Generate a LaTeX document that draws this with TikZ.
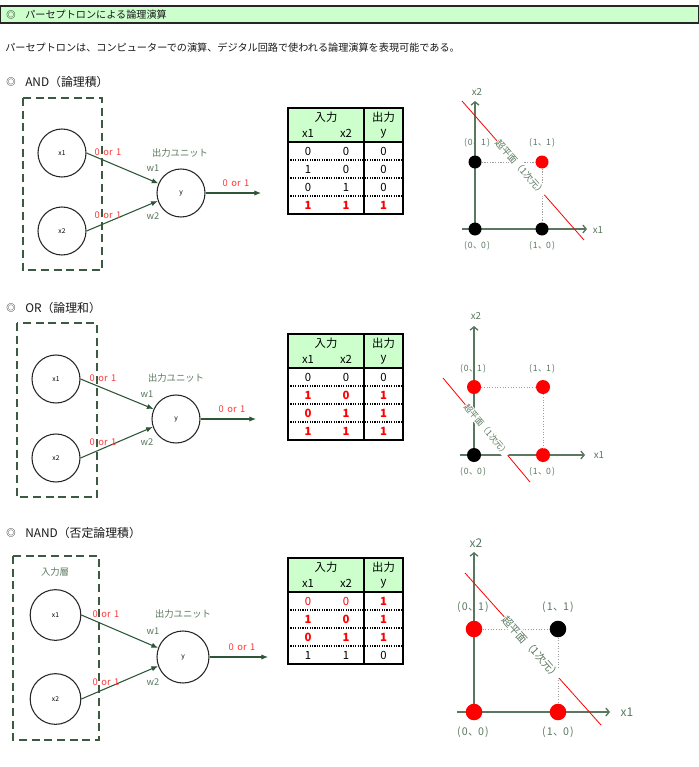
\documentclass[tikz,border=0pt]{standalone}
\usepackage{fontspec}
\setmainfont{Noto Sans CJK JP}
\usetikzlibrary{arrows.meta}
\definecolor{hdrgreen}{HTML}{CCFFCC}
\definecolor{boxgreen}{RGB}{60,90,66}
\definecolor{wiregreen}{RGB}{45,85,55}
\definecolor{lblgreen}{RGB}{90,120,95}
\definecolor{axisgreen}{RGB}{90,120,95}
\definecolor{lred}{RGB}{255,55,55}
\newcommand\Rb[1]{\textcolor{red}{\bfseries #1}}
\newcommand\Rn[1]{\textcolor{red}{#1}}
\newcommand\cpair[2]{(\kern0.8pt#1\kern0.3pt、\kern-0.5pt#2\kern0.8pt)}
\newcommand\zeroone{0\hspace{2.6pt}or\hspace{2.6pt}1}
\tikzset{
  txt/.style={inner sep=0pt, anchor=west, text=black!90, font=\fontsize{7.6pt}{9pt}\selectfont},
  sechead/.style={inner sep=0pt, anchor=west, text=black!90, font=\fontsize{8.9pt}{10pt}\selectfont},
  symb/.style={inner sep=0pt, text=black, font=\fontsize{7pt}{7pt}\selectfont},
  dashbox/.style={draw=boxgreen, line width=1pt, dash pattern=on 6pt off 3.5pt},
  neuron/.style={circle, draw=black!85, line width=0.8pt, minimum size=#1, inner sep=0pt, font=\fontsize{5pt}{6pt}\selectfont},
  wire/.style={draw=wiregreen, line width=0.8pt, -{Latex[length=5pt,width=4pt]}},
  vallbl/.style={inner sep=0pt, text=lred, font=\fontsize{7pt}{8pt}\selectfont},
  unitlbl/.style={inner sep=0pt, text=lblgreen, font=\fontsize{7pt}{8pt}\selectfont},
  tabtxt/.style={inner sep=0pt, font=\fontsize{8.5pt}{10pt}\selectfont},
  axline/.style={draw=axisgreen, line width=1pt, -{Straight Barb[length=2.5pt,width=6pt]}},
  gridline/.style={draw=gray!75, line width=0.6pt, dash pattern=on 0.8pt off 1.2pt},
  ptdot/.style={circle, inner sep=0pt, minimum size=#1},
  coordlbl/.style={inner sep=0pt, text=lblgreen, font=\fontsize{#1}{#1}\selectfont},
  redline/.style={draw=red, line width=0.6pt},
  hyper/.style={sloped, fill=white, inner sep=0.5pt, text=lblgreen, font=\fontsize{#1}{#1}\selectfont},
}
\newcommand\truthtab[3]{%
\begin{scope}[shift={(288,#2)}]
\fill[hdrgreen] (0,0) rectangle (115,34);
\foreach \k in {1,2,3}{\draw[black, line width=0.9pt, dash pattern=on 0.9pt off 0.9pt] (0,{34+18*\k}) -- (115,{34+18*\k});}
\draw[black, line width=1.1pt] (0,34) -- (115,34) (76,0) -- (76,106);
\draw[black, line width=1.3pt] (0,0) rectangle (115,106);
\node[tabtxt] (#1-in) at (38,9.5) {入力};
\node[tabtxt] (#1-out) at (95.5,9.5) {出力};
\node[tabtxt] (#1-h1) at (20,25.5) {x1};
\node[tabtxt] (#1-h2) at (58,25.5) {x2};
\node[tabtxt] (#1-hy) at (95.5,25.5) {y};
\foreach \a/\b/\c [count=\i] in {#3}{%
 \node[tabtxt] (#1-r\i-a) at (20,{25+18*\i}) {\a};
 \node[tabtxt] (#1-r\i-b) at (58,{25+18*\i}) {\b};
 \node[tabtxt] (#1-r\i-c) at (95.5,{25+18*\i}) {\c};
}
\end{scope}}
\begin{document}
\begin{tikzpicture}[x=0.75pt,y=-0.75pt]
\useasboundingbox[fill=white] (0,0) rectangle (699,767);
% header bar
\draw[fill=hdrgreen, draw=black!85, line width=0.9pt] (0.5,6) rectangle (698.5,23);
\node[symb] (hd-s) at (11,14.5) {◎};
\node[txt] (hd-t) at (25,14.5) {パーセプトロンによる論理演算};
\node[txt] (intro) at (5,48) {パーセプトロンは、コンピューターでの演算、デジタル回路で使われる論理演算を表現可能である。};

% ================= AND =================
\node[symb] (and-s) at (11,82) {◎};
\node[sechead] (and-t) at (25,82) {AND（論理積）};
\draw[dashbox] (23,98) rectangle (102,270);
\node[neuron=36pt] (and-x1) at (62,153) {x1};
\node[neuron=36pt] (and-x2) at (62,231) {x2};
\node[neuron=36pt] (and-y) at (181,193) {y};
\coordinate (and-o) at (261,193);
\draw[wire] (and-x1.east) -- (and-y.157);
\draw[wire] (and-x2.east) -- (and-y.199);
\draw[wire] (and-y.east) -- (and-o);
\node[vallbl] (and-v1) at (108,152) {\zeroone};
\node[vallbl] (and-v2) at (108,215) {\zeroone};
\node[vallbl] (and-v3) at (236,183) {\zeroone};
\node[unitlbl] (and-u) at (180,153) {出力ユニット};
\node[unitlbl] (and-w1) at (153,168) {w1};
\node[unitlbl] (and-w2) at (153,216) {w2};
\truthtab{andt}{108}{0/0/0, 1/0/0, 0/1/0, \Rb{1}/\Rb{1}/\Rb{1}}
% graph
\coordinate (and-xs) at (462,229); \coordinate (and-xe) at (587,229);
\coordinate (and-ys) at (475,234); \coordinate (and-ye) at (475,101);
\draw[axline] (and-xs) -- (and-xe);
\draw[axline] (and-ys) -- (and-ye);
\node[ptdot=9.75pt, fill=black] (and-p00) at (475,229) {};
\node[ptdot=9.75pt, fill=black] (and-p10) at (542,229) {};
\node[ptdot=9.75pt, fill=black] (and-p01) at (475,162) {};
\node[ptdot=9.75pt, fill=red] (and-p11) at (542,162) {};
\draw[gridline] (and-p01) -- (and-p11) -- (and-p10);
\coordinate (and-ra) at (462,101); \coordinate (and-rb) at (584,240);
\draw[redline] (and-ra) -- node[hyper=7pt, pos=0.48] (and-hp) {超平面（1次元）} (and-rb);
\node[coordlbl=6.5pt] (and-l01) at (477,143) {\cpair{0}{1}};
\node[coordlbl=6.5pt] (and-l11) at (542,143) {\cpair{1}{1}};
\node[coordlbl=6.5pt] (and-l00) at (477,246) {\cpair{0}{0}};
\node[coordlbl=6.5pt] (and-l10) at (542,246) {\cpair{1}{0}};
\node[coordlbl=7.3pt] (and-ax2) at (477,92) {x2};
\node[coordlbl=7.3pt] (and-ax1) at (598,230) {x1};

% ================= OR =================
\node[symb] (or-s) at (11,308) {◎};
\node[sechead] (or-t) at (25,308) {OR（論理和）};
\draw[dashbox] (17,323) rectangle (97,497);
\node[neuron=36pt] (or-x1) at (56,379) {x1};
\node[neuron=36pt] (or-x2) at (56,458) {x2};
\node[neuron=36pt] (or-y) at (176,419) {y};
\coordinate (or-o) at (256,419);
\draw[wire] (or-x1.east) -- (or-y.156);
\draw[wire] (or-x2.east) -- (or-y.199);
\draw[wire] (or-y.east) -- (or-o);
\node[vallbl] (or-v1) at (103,378) {\zeroone};
\node[vallbl] (or-v2) at (103,442) {\zeroone};
\node[vallbl] (or-v3) at (232,409) {\zeroone};
\node[unitlbl] (or-u) at (176,378) {出力ユニット};
\node[unitlbl] (or-w1) at (147,394) {w1};
\node[unitlbl] (or-w2) at (147,442) {w2};
\truthtab{ort}{334}{0/0/0, \Rb{1}/\Rb{0}/\Rb{1}, \Rb{0}/\Rb{1}/\Rb{1}, \Rb{1}/\Rb{1}/\Rb{1}}
% graph
\coordinate (or-xs) at (460,455); \coordinate (or-xe) at (585,455);
\coordinate (or-ys) at (474,460); \coordinate (or-ye) at (474,326);
\draw[axline] (or-xs) -- (or-xe);
\draw[axline] (or-ys) -- (or-ye);
\node[ptdot=10.5pt, fill=black] (or-p00) at (474,455) {};
\node[ptdot=10.5pt, fill=red] (or-p10) at (543,455) {};
\node[ptdot=10.5pt, fill=red] (or-p01) at (474,387) {};
\node[ptdot=10.5pt, fill=red] (or-p11) at (543,387) {};
\draw[gridline] (or-p01) -- (or-p11) -- (or-p10);
\coordinate (or-ra) at (443,378); \coordinate (or-rb) at (530,482);
\draw[redline] (or-ra) -- node[hyper=6.4pt, pos=0.5] (or-hp) {超平面（1次元）} (or-rb);
\node[coordlbl=6.5pt] (or-l01) at (473,369) {\cpair{0}{1}};
\node[coordlbl=6.5pt] (or-l11) at (542,369) {\cpair{1}{1}};
\node[coordlbl=6.5pt] (or-l00) at (473,472) {\cpair{0}{0}};
\node[coordlbl=6.5pt] (or-l10) at (542,472) {\cpair{1}{0}};
\node[coordlbl=7.3pt] (or-ax2) at (476,316) {x2};
\node[coordlbl=7.3pt] (or-ax1) at (599,455) {x1};

% ================= NAND =================
\node[symb] (nand-s) at (11,533) {◎};
\node[sechead] (nand-t) at (25,533) {NAND（否定論理積）};
\draw[dashbox] (13,556) rectangle (99,740);
\node[unitlbl] (nand-il) at (55,572) {入力層};
\node[neuron=38pt] (nand-x1) at (55.5,615) {x1};
\node[neuron=38pt] (nand-x2) at (55.5,699) {x2};
\node[neuron=39pt] (nand-y) at (183,657) {y};
\coordinate (nand-o) at (268,657);
\draw[wire] (nand-x1.east) -- (nand-y.160);
\draw[wire] (nand-x2.east) -- (nand-y.200);
\draw[wire] (nand-y.east) -- (nand-o);
\node[vallbl] (nand-v1) at (106,614) {\zeroone};
\node[vallbl] (nand-v2) at (106,682) {\zeroone};
\node[vallbl] (nand-v3) at (242,647) {\zeroone};
\node[unitlbl] (nand-u) at (183,614) {出力ユニット};
\node[unitlbl] (nand-w1) at (153,631) {w1};
\node[unitlbl] (nand-w2) at (153,682) {w2};
\truthtab{nandt}{558}{\Rn{0}/\Rn{0}/\Rb{1}, \Rb{1}/\Rb{0}/\Rb{1}, \Rb{0}/\Rb{1}/\Rb{1}, 1/1/0}
% graph
\coordinate (nand-xs) at (457,712); \coordinate (nand-xe) at (610,712);
\coordinate (nand-ys) at (474,718); \coordinate (nand-ye) at (474,552);
\draw[axline] (nand-xs) -- (nand-xe);
\draw[axline] (nand-ys) -- (nand-ye);
\node[ptdot=12.4pt, fill=red] (nand-p00) at (474,712) {};
\node[ptdot=12.4pt, fill=red] (nand-p10) at (558,712) {};
\node[ptdot=12.4pt, fill=red] (nand-p01) at (474,629) {};
\node[ptdot=12.4pt, fill=black] (nand-p11) at (558,629) {};
\draw[gridline] (nand-p01) -- (nand-p11) -- (nand-p10);
\coordinate (nand-ra) at (465,573); \coordinate (nand-rb) at (601,725);
\draw[redline] (nand-ra) -- node[hyper=8pt, pos=0.49] (nand-hp) {超平面（1次元）} (nand-rb);
\node[coordlbl=8pt] (nand-l01) at (473,607) {\cpair{0}{1}};
\node[coordlbl=8pt] (nand-l11) at (558,607) {\cpair{1}{1}};
\node[coordlbl=8pt] (nand-l00) at (473,732) {\cpair{0}{0}};
\node[coordlbl=8pt] (nand-l10) at (558,732) {\cpair{1}{0}};
\node[coordlbl=9pt] (nand-ax2) at (476,543) {x2};
\node[coordlbl=9pt] (nand-ax1) at (627,712) {x1};
\end{tikzpicture}
\end{document}
